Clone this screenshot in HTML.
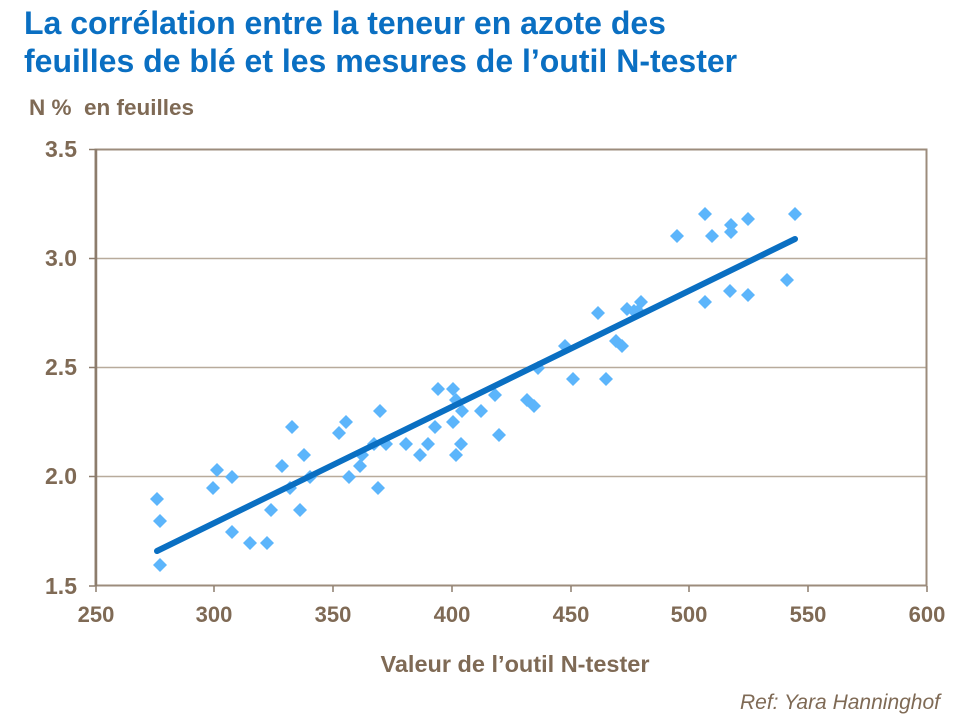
<!DOCTYPE html>
<html><head><meta charset="utf-8"><style>
body{margin:0;background:#fff;width:960px;height:720px;overflow:hidden;font-family:"Liberation Sans",sans-serif}
</style></head><body>
<svg width="960" height="720" xmlns="http://www.w3.org/2000/svg" font-family="Liberation Sans, sans-serif">
<text x="24" y="34" font-size="32" font-weight="bold" fill="#0a6fc2">La corrélation entre la teneur en azote des</text>
<text x="24" y="72" font-size="32" font-weight="bold" fill="#0a6fc2">feuilles de blé et les mesures de l’outil N-tester</text>
<text x="29" y="115" font-size="22.5" font-weight="bold" fill="#7f6a55" xml:space="preserve">N %  en feuilles</text>
<g stroke="#b8ab9c" stroke-width="1.5">
<line x1="95" y1="258.5" x2="927" y2="258.5"/>
<line x1="95" y1="367.5" x2="927" y2="367.5"/>
<line x1="95" y1="476.5" x2="927" y2="476.5"/>
</g>
<rect x="95.5" y="149.5" width="831" height="436" fill="none" stroke="#9c8c7c" stroke-width="2"/>
<line x1="96" y1="149" x2="96" y2="586" stroke="#8c7c6c" stroke-width="2.5"/>
<g stroke="#8c7c6c" stroke-width="1.5">
<line x1="89" y1="149.5" x2="95" y2="149.5"/><line x1="89" y1="258.5" x2="95" y2="258.5"/><line x1="89" y1="367.5" x2="95" y2="367.5"/><line x1="89" y1="476.5" x2="95" y2="476.5"/><line x1="89" y1="586" x2="95" y2="586"/>
<line x1="96" y1="586" x2="96" y2="592"/><line x1="214" y1="586" x2="214" y2="592"/><line x1="333" y1="586" x2="333" y2="592"/><line x1="452" y1="586" x2="452" y2="592"/><line x1="571" y1="586" x2="571" y2="592"/><line x1="689" y1="586" x2="689" y2="592"/><line x1="808" y1="586" x2="808" y2="592"/><line x1="927" y1="586" x2="927" y2="592"/>
</g>
<g font-size="23" font-weight="bold" fill="#7f6a55" text-anchor="end">
<text x="77" y="157">3.5</text><text x="77" y="266">3.0</text><text x="77" y="375">2.5</text><text x="77" y="484">2.0</text><text x="77" y="594">1.5</text>
</g>
<g font-size="22" font-weight="bold" fill="#7f6a55" text-anchor="middle">
<text x="96" y="622">250</text><text x="214" y="622">300</text><text x="333" y="622">350</text><text x="452" y="622">400</text><text x="571" y="622">450</text><text x="689" y="622">500</text><text x="808" y="622">550</text><text x="927" y="622">600</text>
<text x="515" y="672" font-size="23.5">Valeur de l’outil N-tester</text>
</g>
<text x="940" y="709" font-size="21" font-style="italic" fill="#7f6a55" text-anchor="end">Ref: Yara Hanninghof</text>
<g fill="#5cb5fb" id="pts"></g>
<line x1="157" y1="551" x2="795" y2="239" stroke="#0a6fc2" stroke-width="6" stroke-linecap="round"/>
</svg>
<script>
var p=[[157,499],[160,521],[160,565],[213,488],[217,470],[232,477],[232,532],[250,543],[267,543],[271,510],[282,466],[292,427],[290,488],[300,510],[304,455],[310,477],[339,433],[346,422],[349,477],[360,466],[362,455],[374,444],[378,488],[380,411],[386,444],[406,444],[420,455],[428,444],[435,427],[438,389],[453,389],[453,422],[456,400],[456,455],[461,444],[462,411],[481,411],[495,395],[499,435],[527,400],[534,406],[538,368],[565,346],[573,379],[598,313],[606,379],[616,341],[622,346],[627,309],[634,311],[638,311],[641,302],[677,236],[705,214],[705,302],[712,236],[731,225],[731,232],[730,291],[748,219],[748,295],[787,280],[795,214]];
var g=document.getElementById('pts'),s='';
p.forEach(function(a){var x=a[0],y=a[1];s+='<polygon points="'+x+','+(y-7)+' '+(x+7)+','+y+' '+x+','+(y+7)+' '+(x-7)+','+y+'"/>';});
g.innerHTML=s;
</script>
</body></html>
